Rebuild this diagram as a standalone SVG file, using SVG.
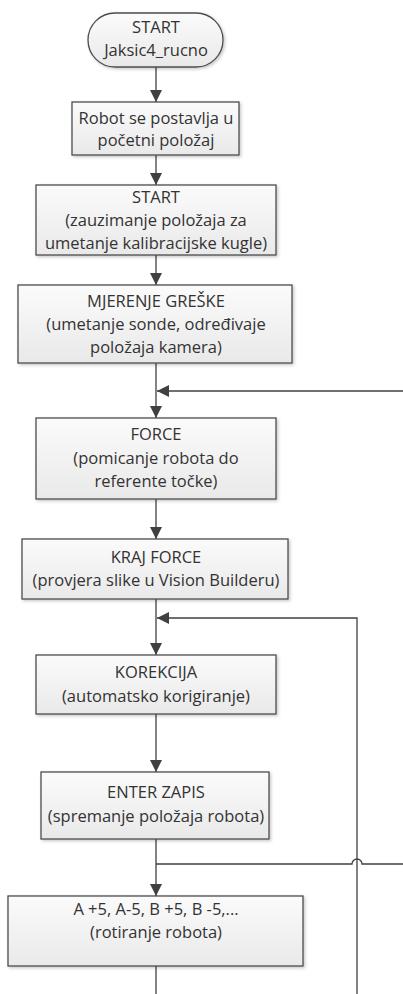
<svg xmlns="http://www.w3.org/2000/svg" width="403" height="994" viewBox="0 0 403 994">
<defs>
<linearGradient id="g" x1="0" y1="0" x2="0" y2="1">
<stop offset="0" stop-color="#fbfbfb"/>
<stop offset="1" stop-color="#e9e9e9"/>
</linearGradient>
<filter id="sh" x="-10%" y="-10%" width="125%" height="130%">
<feDropShadow dx="1.5" dy="1.5" stdDeviation="1.5" flood-color="#000" flood-opacity="0.22"/>
</filter>
<marker id="ah" markerWidth="12" markerHeight="12" viewBox="0 0 12 12" refX="12" refY="6" orient="auto" markerUnits="userSpaceOnUse">
<path d="M0,0 L12,6 L0,12 Z" fill="#404040"/>
</marker>
</defs>
<style>
.box{fill:url(#g);stroke:#4d4d4d;stroke-width:1.3;filter:url(#sh)}
.t{font-family:"Open Sans","Noto Sans","Liberation Sans",sans-serif;font-size:16.5px;fill:#333;text-anchor:middle}
.c{fill:none;stroke:#404040;stroke-width:1.3}
</style>
<rect width="403" height="994" fill="#fff"/>
<g id="connectors">
<line class="c" x1="156" y1="67" x2="156" y2="102" marker-end="url(#ah)"/>
<line class="c" x1="156" y1="155" x2="156" y2="185" marker-end="url(#ah)"/>
<line class="c" x1="156" y1="255" x2="156" y2="285" marker-end="url(#ah)"/>
<line class="c" x1="156" y1="363" x2="156" y2="418" marker-end="url(#ah)"/>
<line class="c" x1="403" y1="391" x2="157" y2="391" marker-end="url(#ah)"/>
<line class="c" x1="156" y1="499" x2="156" y2="539" marker-end="url(#ah)"/>
<line class="c" x1="156" y1="599" x2="156" y2="655" marker-end="url(#ah)"/>
<polyline class="c" points="357,994 357,618 157,618" marker-end="url(#ah)"/>
<line class="c" x1="156" y1="714" x2="156" y2="772" marker-end="url(#ah)"/>
<line class="c" x1="156" y1="839" x2="156" y2="896" marker-end="url(#ah)"/>
<path class="c" d="M156,864 H352 A5,5 0 0 1 362,864 H403"/>
<line class="c" x1="156" y1="966" x2="156" y2="994"/>
</g>
<g id="n0">
<rect class="box" x="88" y="13" width="135" height="54" rx="27" ry="27"/>
<text class="t" x="156" y="33">START</text>
<text class="t" x="156" y="56">Jaksic4_rucno</text>
</g>
<g id="n1">
<rect class="box" x="72" y="102" width="167" height="53"/>
<text class="t" x="156" y="124">Robot se postavlja u</text>
<text class="t" x="156" y="146">početni položaj</text>
</g>
<g id="n2">
<rect class="box" x="36" y="185" width="240" height="70"/>
<text class="t" x="156" y="203">START</text>
<text class="t" x="156" y="226">(zauzimanje položaja za</text>
<text class="t" x="156" y="249">umetanje kalibracijske kugle)</text>
</g>
<g id="n3">
<rect class="box" x="18" y="285" width="274" height="78"/>
<text class="t" x="156" y="307">MJERENJE GREŠKE</text>
<text class="t" x="156" y="330">(umetanje sonde, određivaje</text>
<text class="t" x="156" y="353">položaja kamera)</text>
</g>
<g id="n4">
<rect class="box" x="36" y="418" width="240" height="81"/>
<text class="t" x="156" y="440">FORCE</text>
<text class="t" x="156" y="464">(pomicanje robota do</text>
<text class="t" x="156" y="487">referente točke)</text>
</g>
<g id="n5">
<rect class="box" x="22" y="539" width="266" height="60"/>
<text class="t" x="156" y="563">KRAJ FORCE</text>
<text class="t" x="156" y="586">(provjera slike u Vision Builderu)</text>
</g>
<g id="n6">
<rect class="box" x="36" y="655" width="240" height="59"/>
<text class="t" x="156" y="678">KOREKCIJA</text>
<text class="t" x="156" y="702">(automatsko korigiranje)</text>
</g>
<g id="n7">
<rect class="box" x="41" y="772" width="228" height="67"/>
<text class="t" x="156" y="798">ENTER ZAPIS</text>
<text class="t" x="156" y="822">(spremanje položaja robota)</text>
</g>
<g id="n8">
<rect class="box" x="8" y="896" width="295" height="70"/>
<text class="t" x="156" y="915">A +5, A-5, B +5, B -5,...</text>
<text class="t" x="156" y="938">(rotiranje robota)</text>
</g>
</svg>
